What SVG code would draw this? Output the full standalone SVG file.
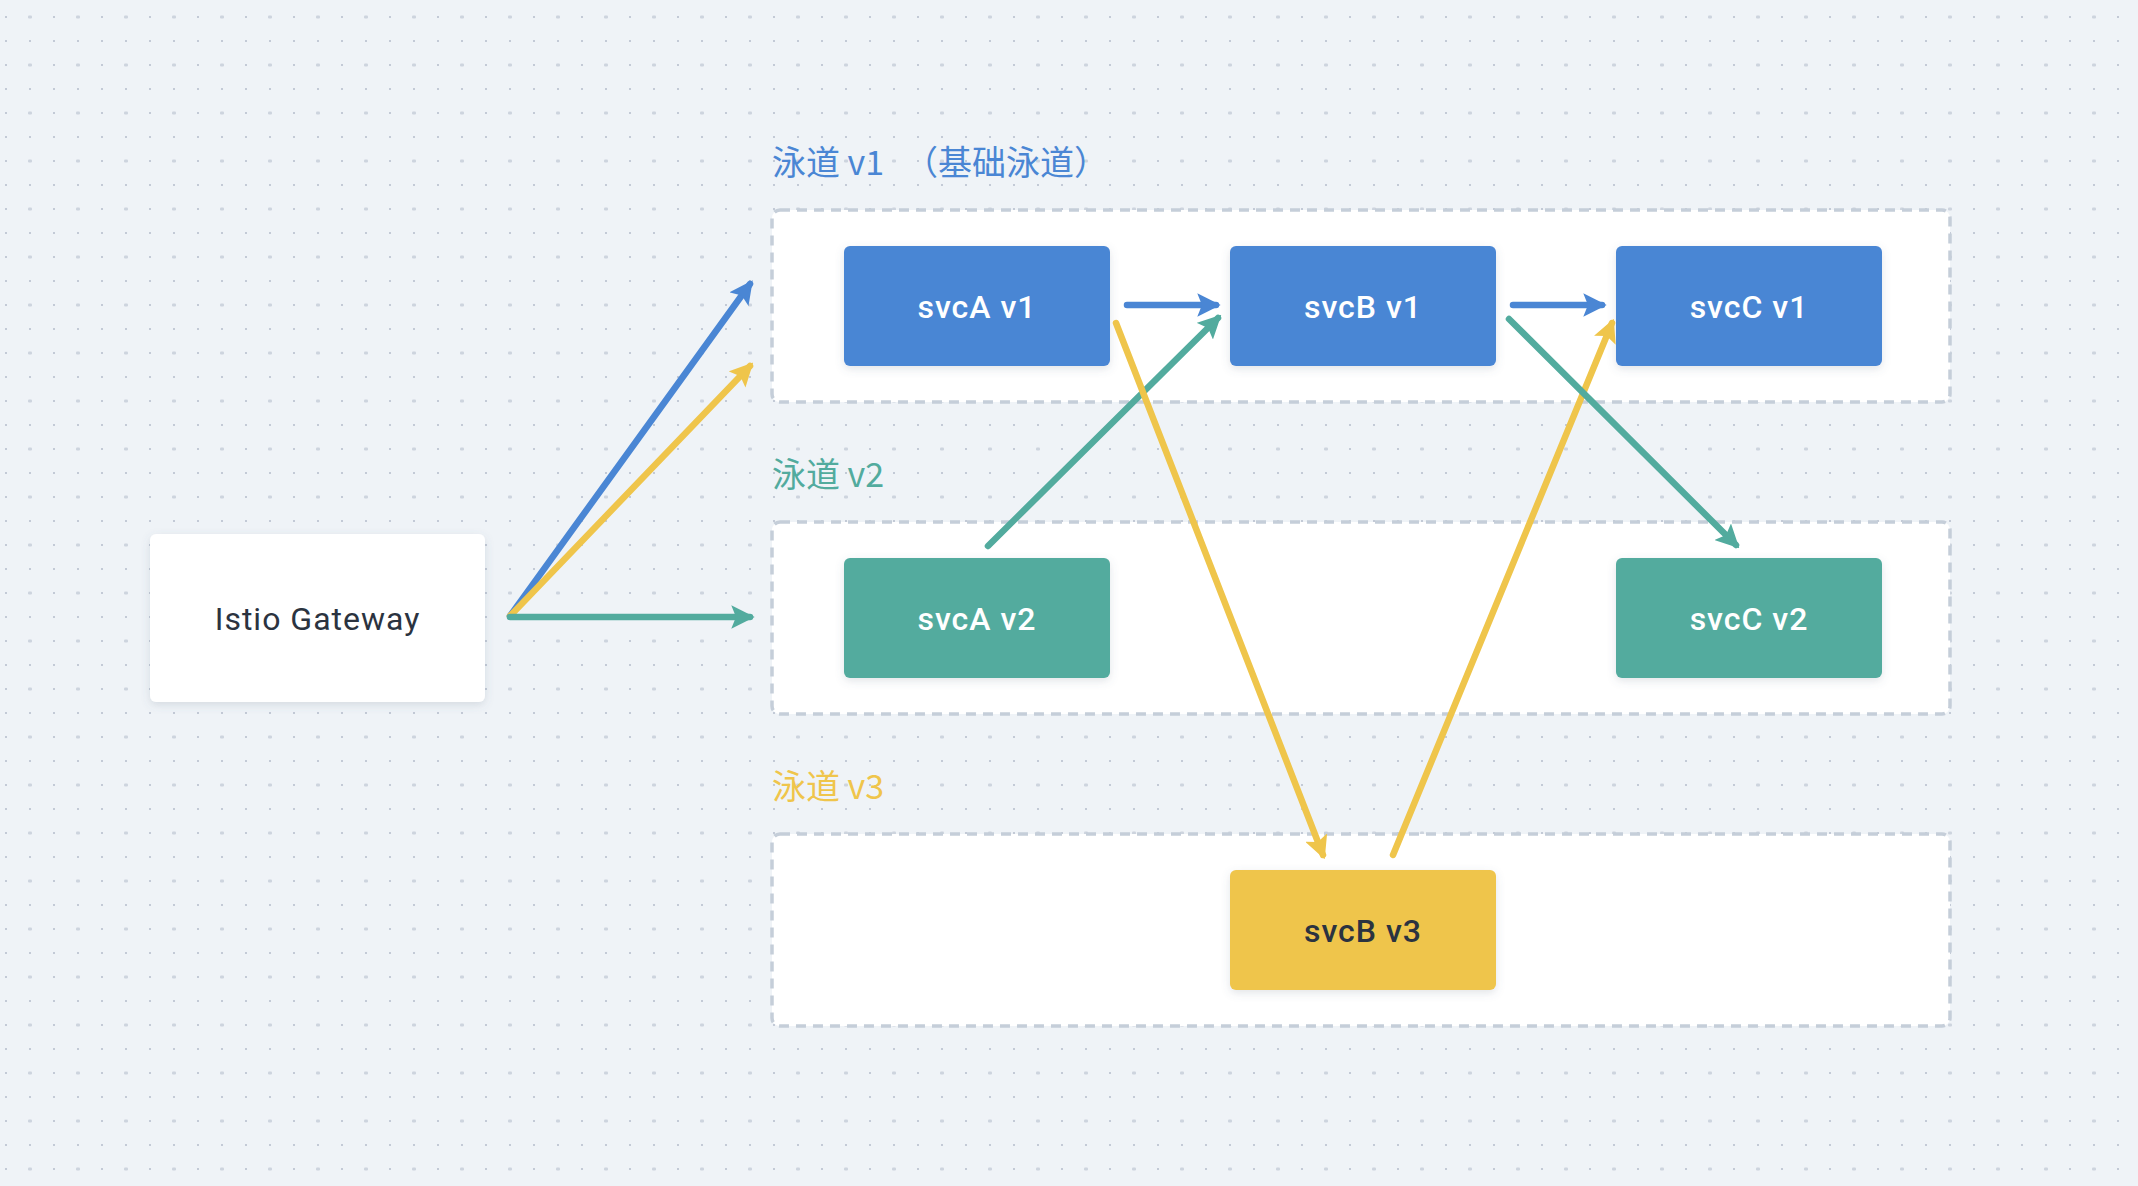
<svg xmlns="http://www.w3.org/2000/svg" width="2138" height="1186" viewBox="0 0 2138 1186">
<defs>
<pattern id="dots" patternUnits="userSpaceOnUse" x="0" y="0" width="48" height="48">
<rect x="5" y="16" width="2" height="2" fill="#c3cad6"/>
<rect x="5" y="40" width="2" height="2" fill="#c3cad6"/>
<rect x="29" y="40" width="2" height="2" fill="#c3cad6"/>
<rect x="28" y="15.5" width="4" height="3" rx="1" fill="#cdd4de"/>
</pattern>
<filter id="sh" x="-10%" y="-10%" width="120%" height="140%">
<feDropShadow dx="0" dy="3" stdDeviation="4" flood-color="#5a6b80" flood-opacity="0.18"/>
</filter>
<marker id="ab" viewBox="0 0 10 10" refX="8" refY="5" markerWidth="3.6" markerHeight="3.6" orient="auto" markerUnits="strokeWidth">
<path d="M0,0 L10,5 L0,10 L2,5 Z" fill="#4a86d4"/>
</marker>
<marker id="ag" viewBox="0 0 10 10" refX="8" refY="5" markerWidth="3.6" markerHeight="3.6" orient="auto" markerUnits="strokeWidth">
<path d="M0,0 L10,5 L0,10 L2,5 Z" fill="#52ab9e"/>
</marker>
<marker id="ay" viewBox="0 0 10 10" refX="8" refY="5" markerWidth="3.6" markerHeight="3.6" orient="auto" markerUnits="strokeWidth">
<path d="M0,0 L10,5 L0,10 L2,5 Z" fill="#efc54b"/>
</marker>
</defs>
<style>
.lane{fill:#ffffff;stroke:#c5ced9;stroke-width:3.5;stroke-dasharray:10 7}
.lbl{font-family:"Noto Sans CJK SC","Noto Sans",sans-serif;font-size:34px}
.node rect{rx:6px;ry:6px;filter:url(#sh)}
.nt{font-family:Roboto,"Noto Sans",sans-serif;font-size:32px;font-weight:500;letter-spacing:1px;text-anchor:middle;dominant-baseline:central}
.gt{font-weight:400}
.e{fill:none;stroke-width:6.5;stroke-linecap:round}
.b{stroke:#4a86d4;marker-end:url(#ab)}
.g{stroke:#52ab9e;marker-end:url(#ag)}
.y{stroke:#efc54b;marker-end:url(#ay)}
</style>
<rect width="2138" height="1186" fill="#eff3f7"/>
<rect width="2138" height="1186" fill="url(#dots)"/>

<g id="lane-v1">
<rect class="lane" x="772" y="210" width="1178" height="192" rx="8"/>
<text class="lbl" y="175" fill="#4a86d4"><tspan x="772">泳道 v1</tspan><tspan x="904">（基础泳道）</tspan></text>
</g>
<g id="lane-v2">
<rect class="lane" x="772" y="522" width="1178" height="192" rx="8"/>
<text class="lbl" x="772" y="487" fill="#52ab9e">泳道 v2</text>
</g>
<g id="lane-v3">
<rect class="lane" x="772" y="834" width="1178" height="192" rx="8"/>
<text class="lbl" x="772" y="799" fill="#efc54b">泳道 v3</text>
</g>

<g id="gateway" class="node">
<rect x="150" y="534" width="335" height="168" fill="#ffffff"/>
<text class="nt gt" x="317.5" y="619" fill="#2b3340">Istio Gateway</text>
</g>
<g id="svcA-v1" class="node">
<rect x="844" y="246" width="266" height="120" fill="#4a86d4"/>
<text class="nt" x="977" y="307" fill="#ffffff">svcA v1</text>
</g>
<g id="svcB-v1" class="node">
<rect x="1230" y="246" width="266" height="120" fill="#4a86d4"/>
<text class="nt" x="1363" y="307" fill="#ffffff">svcB v1</text>
</g>
<g id="svcC-v1" class="node">
<rect x="1616" y="246" width="266" height="120" fill="#4a86d4"/>
<text class="nt" x="1749" y="307" fill="#ffffff">svcC v1</text>
</g>
<g id="svcA-v2" class="node">
<rect x="844" y="558" width="266" height="120" fill="#52ab9e"/>
<text class="nt" x="977" y="619" fill="#ffffff">svcA v2</text>
</g>
<g id="svcC-v2" class="node">
<rect x="1616" y="558" width="266" height="120" fill="#52ab9e"/>
<text class="nt" x="1749" y="619" fill="#ffffff">svcC v2</text>
</g>
<g id="svcB-v3" class="node">
<rect x="1230" y="870" width="266" height="120" fill="#efc54b"/>
<text class="nt" x="1363" y="931" fill="#2b3340">svcB v3</text>
</g>

<g id="connectors">
<line class="e b" x1="510" y1="616" x2="750" y2="284"/>
<line class="e y" x1="510" y1="616" x2="750" y2="366"/>
<line class="e g" x1="510" y1="617" x2="750" y2="617"/>
<line class="e b" x1="1127" y1="305" x2="1216" y2="305"/>
<line class="e b" x1="1513" y1="305" x2="1602" y2="305"/>
<line class="e g" x1="988" y1="546" x2="1218" y2="318"/>
<line class="e y" x1="1116" y1="323" x2="1323" y2="855"/>
<line class="e y" x1="1393" y1="855" x2="1612" y2="323"/>
<line class="e g" x1="1509" y1="319" x2="1736" y2="545"/>
</g>
</svg>
